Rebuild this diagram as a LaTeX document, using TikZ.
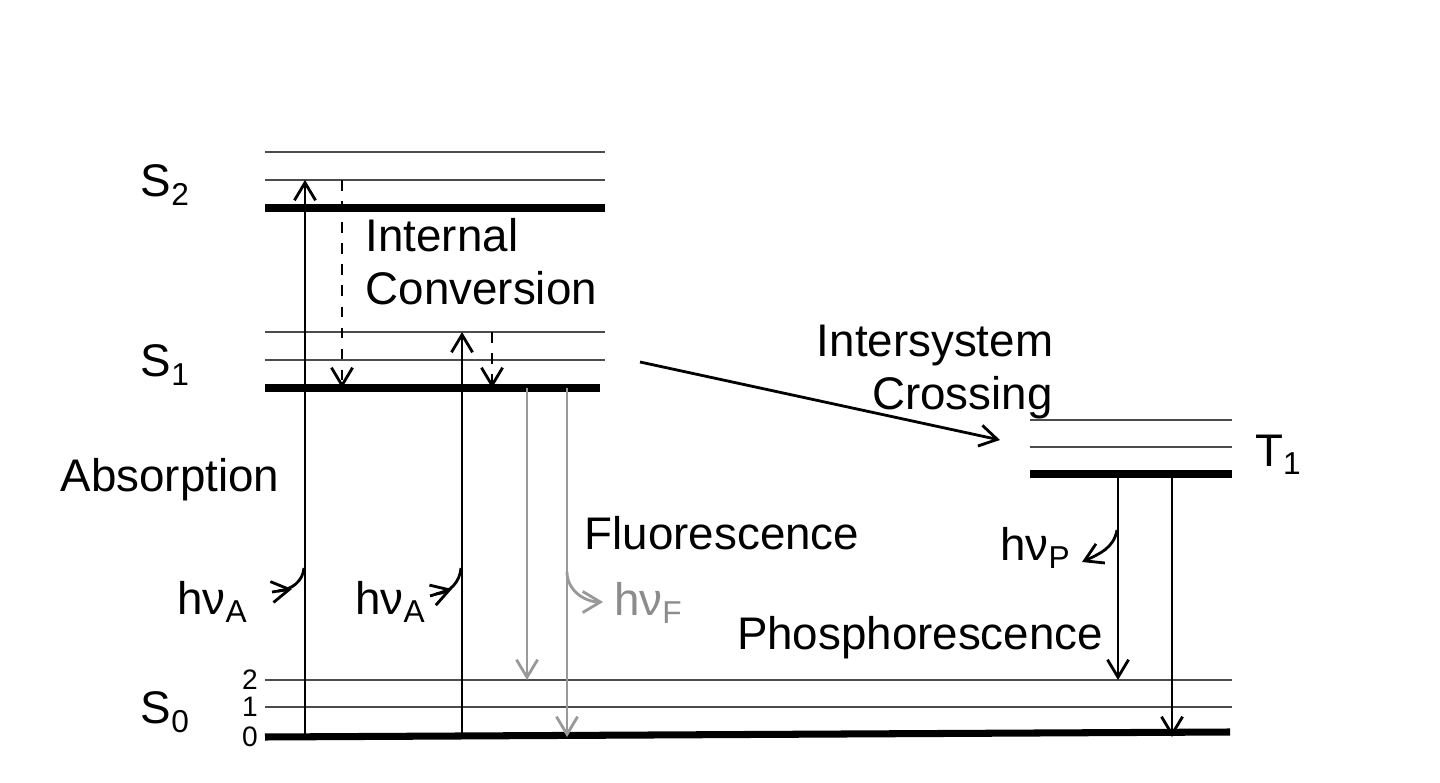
\documentclass[tikz,border=0pt]{standalone}
\usepackage{fontspec}
\setmainfont{Liberation Sans}
\usetikzlibrary{arrows.meta}
\newcommand{\sbs}[1]{\raisebox{-0.35ex}{\fontsize{9}{10}\selectfont #1}}
\begin{document}
\begin{tikzpicture}[x=0.01cm,y=-0.01cm,
  thin lvl/.style={draw=black!70,line width=0.8pt},
  thick lvl/.style={draw=black,line width=2pt},
  arr/.style={-{Straight Barb[length=5pt,width=6pt]},line width=0.8pt},
  grayarr/.style={arr,draw=black!40},
  dash arr/.style={arr,dashed},
  lbl/.style={font=\fontsize{13}{15}\selectfont,inner sep=0pt},
  num/.style={font=\fontsize{8}{9}\selectfont,inner sep=0pt}]
\useasboundingbox (0,0) rectangle (1440,783);
% S2
\draw[thin lvl] (265,152) -- (605,152);
\draw[thin lvl] (265,180) -- (605,180);
\draw[thick lvl] (265,208) -- (605,208);
% S1
\draw[thin lvl] (265,332) -- (605,332);
\draw[thin lvl] (265,360) -- (605,360);
\draw[thick lvl] (265,388) -- (600,388);
% T1
\draw[thin lvl] (1030,420) -- (1232,420);
\draw[thin lvl] (1030,447) -- (1232,447);
\draw[thick lvl] (1030,474) -- (1232,474);
% S0
\draw[thin lvl] (265,680) -- (1232,680);
\draw[thin lvl] (265,707) -- (1232,707);
\draw[thick lvl] (265,737) -- (1230,732);
% labels
\node[lbl] (ls2) at (165,185) {S\sbs{2}};
\node[lbl] (ls1) at (165,365) {S\sbs{1}};
\node[lbl] (ls0) at (165,712) {S\sbs{0}};
\node[lbl] (lt1) at (1278,455) {T\sbs{1}};
\node[num] (n2) at (250,680) {2};
\node[num] (n1) at (250,707) {1};
\node[num] (n0) at (250,737) {0};
\node[lbl,align=left,anchor=west] (ic) at (365,262) {Internal\\ Conversion};
\node[lbl,align=center] (isc) at (935,372) {Intersystem\\ \hspace*{1.2em}Crossing};
\node[lbl] (abs) at (170,480) {Absorption};
\node[lbl] (fl) at (722,533) {Fluorescence};
\node[lbl] (ph) at (920,638) {Phosphorescence};
\node[lbl] (hva1) at (212,602) {hν\sbs{A}};
\node[lbl] (hva2) at (390,602) {hν\sbs{A}};
\node[lbl,text=black!45] (hvf) at (648,603) {hν\sbs{F}};
\node[lbl] (hvp) at (1035,548) {hν\sbs{P}};
% absorption
\coordinate (a1b) at (305,737); \coordinate (a1t) at (305,180);
\coordinate (a2b) at (462,737); \coordinate (a2t) at (462,332);
\draw[arr] (a1b) -- (a1t);
\draw[arr] (a2b) -- (a2t);
% internal conversion
\coordinate (ic1t) at (342,180); \coordinate (ic1b) at (342,388);
\coordinate (ic2t) at (492,332); \coordinate (ic2b) at (492,388);
\draw[dash arr] (ic1t) -- (ic1b);
\draw[dash arr] (ic2t) -- (ic2b);
% fluorescence
\coordinate (f1t) at (527,388); \coordinate (f1b) at (527,680);
\coordinate (f2t) at (567,388); \coordinate (f2b) at (567,737);
\draw[grayarr] (f1t) -- (f1b);
\draw[grayarr] (f2t) -- (f2b);
% ISC
\coordinate (iscs) at (640,362); \coordinate (isce) at (1000,440);
\draw[arr] (iscs) -- (isce);
% phosphorescence
\coordinate (p1t) at (1118,474); \coordinate (p1b) at (1118,680);
\coordinate (p2t) at (1172,474); \coordinate (p2b) at (1172,737);
\draw[arr] (p1t) -- (p1b);
\draw[arr] (p2t) -- (p2b);
% photon squiggles
\draw[arr] (272,592) -- (292,589);
\draw[line width=0.8pt] (278,591) to[out=5,in=-95] (304,568);
\draw[arr] (430,596) -- (452,589);
\draw[line width=0.8pt] (436,594) to[out=5,in=-95] (461,568);
\draw[grayarr] (567,572) to[out=-90,in=180] (603,602);
\draw[arr] (1117,530) to[out=-100,in=25] (1082,562);
\end{tikzpicture}
\end{document}
